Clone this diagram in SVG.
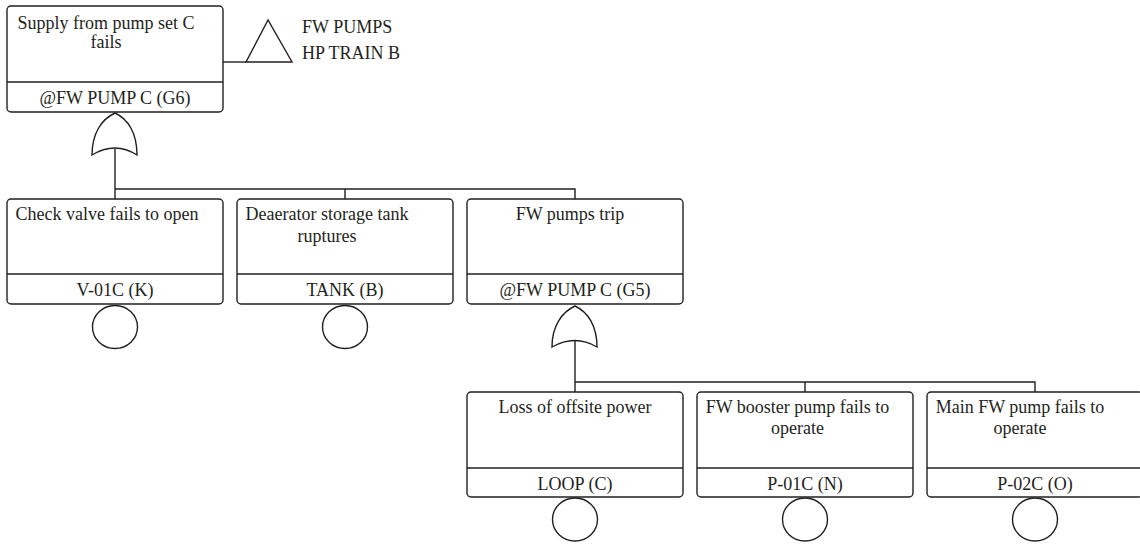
<svg xmlns="http://www.w3.org/2000/svg" width="1140" height="544" viewBox="0 0 1140 544">
<style>
.box{fill:#fff;stroke:#231f20;stroke-width:1.4}
.ln{fill:none;stroke:#231f20;stroke-width:1.4}
.gate{fill:#fff;stroke:#231f20;stroke-width:1.4}
.t{font-family:"Liberation Serif","Times New Roman",serif;font-size:18px;fill:#231f20;text-anchor:middle}
.tl{font-family:"Liberation Serif","Times New Roman",serif;font-size:18px;fill:#231f20}
</style>
<rect width="1140" height="544" fill="#fff"/>
<g id="connectors">
<path class="ln" d="M223,62 H246"/>
<path class="ln" d="M115,149 V189 H575 V199 M345,189 V199 M115,189 V199"/>
<path class="ln" d="M575,341 V382 H1035 V392 M805,382 V392 M575,382 V392"/>
</g>
<g id="g6">
<rect class="box" x="7" y="6" width="216" height="106" rx="4"/>
<path class="ln" d="M7,82 H223"/>
<text class="t" x="106" y="28.5">Supply from pump set C</text>
<text class="t" x="106" y="48">fails</text>
<text class="t" x="115" y="104">@FW PUMP C (G6)</text>
<path class="gate" d="M92,155 C92,133 102,119 115,113 C128,119 137,133 137,155 Q115,141 92,155 Z"/>
</g>
<g id="transfer">
<path class="ln" d="M268,20 L246,62 H292 Z"/>
<text class="tl" x="302" y="33">FW PUMPS</text>
<text class="tl" x="302" y="59">HP TRAIN B</text>
</g>
<g id="v01c">
<rect class="box" x="7" y="199" width="216" height="105" rx="4"/>
<path class="ln" d="M7,274 H223"/>
<text class="t" x="107" y="220">Check valve fails to open</text>
<text class="t" x="115" y="296">V-01C (K)</text>
<ellipse class="ln" cx="115" cy="327" rx="22.5" ry="21.5"/>
</g>
<g id="tank">
<rect class="box" x="237" y="199" width="216" height="105" rx="4"/>
<path class="ln" d="M237,274 H453"/>
<text class="t" x="327" y="220">Deaerator storage tank</text>
<text class="t" x="327" y="241.5">ruptures</text>
<text class="t" x="345" y="296">TANK (B)</text>
<ellipse class="ln" cx="345" cy="327" rx="22.5" ry="21.5"/>
</g>
<g id="g5">
<rect class="box" x="467" y="199" width="216" height="105" rx="4"/>
<path class="ln" d="M467,274 H683"/>
<text class="t" x="570" y="220">FW pumps trip</text>
<text class="t" x="575" y="296">@FW PUMP C (G5)</text>
<path class="gate" d="M552,347 C552,326 562,312 575,306 C588,312 597,326 597,347 Q575,334 552,347 Z"/>
</g>
<g id="loop">
<rect class="box" x="467" y="392" width="216" height="105" rx="4"/>
<path class="ln" d="M467,468 H683"/>
<text class="t" x="575" y="413">Loss of offsite power</text>
<text class="t" x="575" y="489.5">LOOP (C)</text>
<ellipse class="ln" cx="575" cy="519.5" rx="22.5" ry="21.5"/>
</g>
<g id="p01c">
<rect class="box" x="697" y="392" width="216" height="105" rx="4"/>
<path class="ln" d="M697,468 H913"/>
<text class="t" x="797.5" y="413">FW booster pump fails to</text>
<text class="t" x="797.5" y="434">operate</text>
<text class="t" x="805" y="489.5">P-01C (N)</text>
<ellipse class="ln" cx="805" cy="519.5" rx="22.5" ry="21.5"/>
</g>
<g id="p02c">
<rect class="box" x="927" y="392" width="216" height="105" rx="4"/>
<path class="ln" d="M927,468 H1143"/>
<text class="t" x="1020" y="413">Main FW pump fails to</text>
<text class="t" x="1020" y="434">operate</text>
<text class="t" x="1035" y="489.5">P-02C (O)</text>
<ellipse class="ln" cx="1035" cy="519.5" rx="22.5" ry="21.5"/>
</g>
</svg>
